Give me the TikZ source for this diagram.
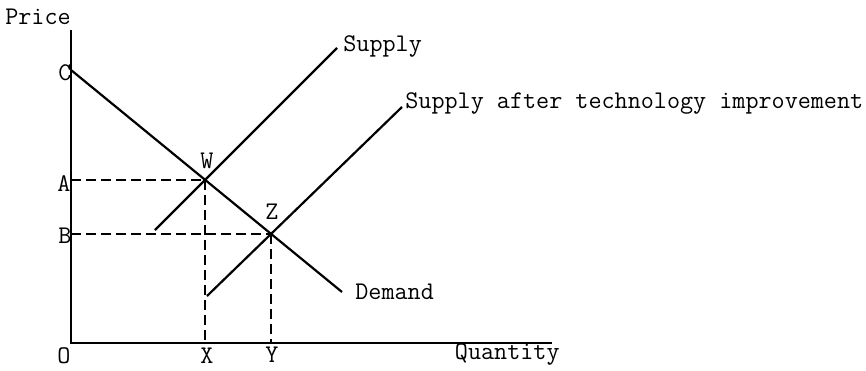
\documentclass[tikz,border=0pt]{standalone}
\usepackage{fontspec}
\begin{document}
\begin{tikzpicture}[x=0.5pt,y=-0.5pt,
  lbl/.style={font=\ttfamily\fontsize{12.7}{14}\selectfont, inner sep=0pt},
  curve/.style={line width=1.1pt},
  axis/.style={line width=1.2pt},
  guide/.style={line width=0.9pt, dash pattern=on 5pt off 2.5pt}]
\useasboundingbox (0,0) rectangle (866,370);
% key points
\coordinate (O) at (71,343);
\coordinate (ytop) at (71,30);
\coordinate (xend) at (552,343);
\coordinate (C) at (71,70);
\coordinate (W) at (205,180);
\coordinate (Z) at (271,234);
\coordinate (dend) at (342,292);
\coordinate (aA) at (71,180);
\coordinate (aB) at (71,234);
\coordinate (xX) at (205,343);
\coordinate (xY) at (271,343);
\coordinate (s1lo) at (155,230);
\coordinate (s1hi) at (337,48);
\coordinate (s2lo) at (207,296);
\coordinate (s2hi) at (402,107);
% axes
\draw[axis] (ytop) -- (O) -- (xend);
% guides
\draw[guide] (aA) -- (W);
\draw[guide] (aB) -- (Z);
\draw[guide] (W) -- (xX);
\draw[guide] (Z) -- (xY);
% curves
\draw[curve] (C) -- (dend);
\draw[curve] (s1lo) -- (s1hi);
\draw[curve] (s2lo) -- (s2hi);
% labels
\node[lbl] (lPrice) at (38,17) {Price};
\node[lbl] (lC) at (65,73) {C};
\node[lbl] (lA) at (64,184) {A};
\node[lbl] (lB) at (65,236) {B};
\node[lbl] (lW) at (207,161) {W};
\node[lbl] (lZ) at (272,212) {Z};
\node[lbl] (lO) at (64,356) {O};
\node[lbl] (lX) at (207,356) {X};
\node[lbl] (lY) at (272,355) {Y};
\node[lbl,anchor=east] (lQ) at (560,354) {Quantity};
\node[lbl,anchor=west] (lD) at (355,292) {Demand};
\node[lbl,anchor=west] (lS) at (343,46) {Supply};
\node[lbl,anchor=west] (lS2) at (405,103) {Supply after technology improvement};
\end{tikzpicture}
\end{document}
